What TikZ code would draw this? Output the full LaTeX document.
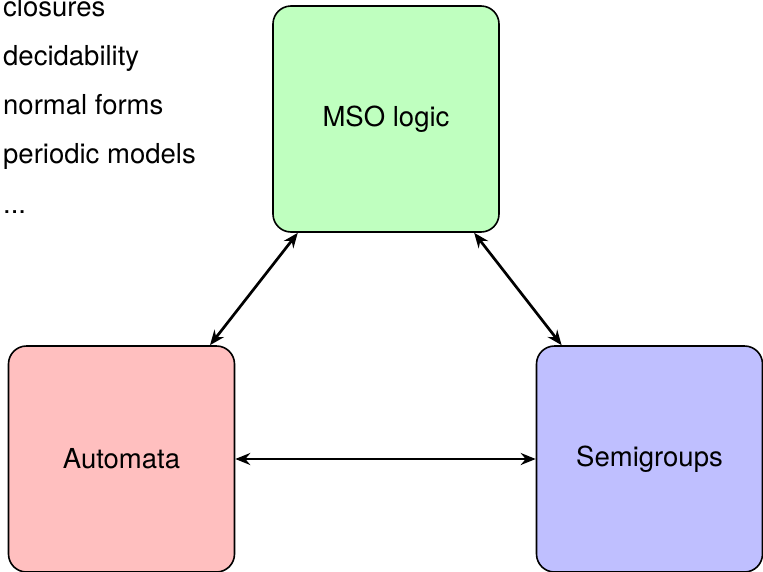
\documentclass[tikz,border=0pt]{standalone}
\usepackage{fontspec}
\setmainfont{TeX Gyre Heros}
\usetikzlibrary{arrows.meta}
\definecolor{msogreen}{RGB}{191,255,191}
\definecolor{autored}{RGB}{255,191,191}
\definecolor{semiblue}{RGB}{191,191,255}
\tikzset{
  topicbox/.style={draw=black, line width=1.6pt, rounded corners=18pt,
    minimum width=226pt, minimum height=226pt, inner sep=0pt,
    font=\fontsize{27.5}{33}\selectfont},
  topicitem/.style={anchor=base west, inner sep=0pt,
    font=\fontsize{27.5}{33}\selectfont},
  link/.style={line width=2.7pt, {Stealth[length=15pt,width=12pt,inset=5pt]}-{Stealth[length=15pt,width=12pt,inset=5pt]}}
}
\begin{document}
\begin{tikzpicture}[x=1pt,y=-1pt]
  \useasboundingbox (0,0) rectangle (763,571);
  % the three boxes
  \node[topicbox, fill=msogreen] (mso) at (386,119) {MSO logic};
  \node[topicbox, fill=autored] (auto) at (121.5,459) {Automata};
  \node[topicbox, fill=semiblue] (semi) at (649.5,459) {Semigroups};
  % list of topics
  \node[topicitem] (t1) at (3,16) {closures};
  \node[topicitem] (t2) at (3,65) {decidability};
  \node[topicitem] (t3) at (3,114) {normal forms};
  \node[topicitem] (t4) at (3,163) {periodic models};
  \node[topicitem] (t5) at (3,213) {...};
  % connections
  \draw[link] (auto) -- (mso);
  \draw[link] (mso) -- (semi);
  \draw[link] (auto) -- (semi);
\end{tikzpicture}
\end{document}
